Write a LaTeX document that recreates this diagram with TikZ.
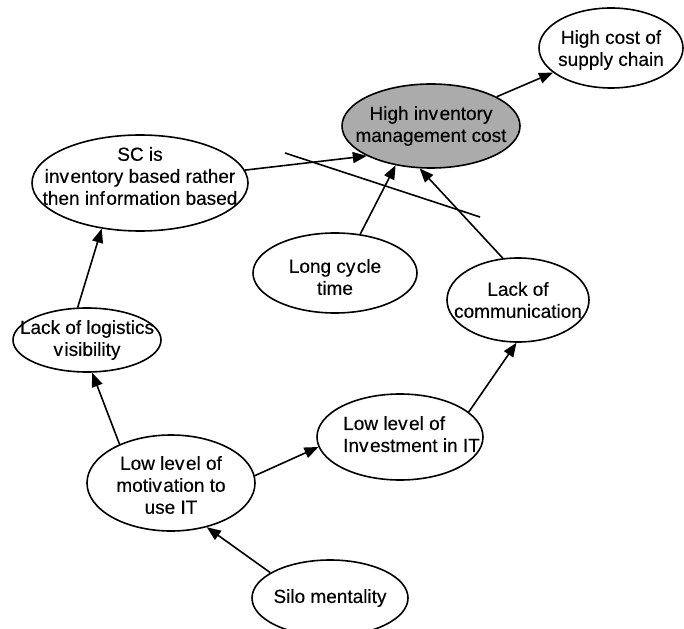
\documentclass[tikz,border=0pt]{standalone}
\usepackage{fontspec}
\setmainfont{Liberation Sans}
\newfontfamily\nodefont{Liberation Sans}[FakeBold=0.3]
\usetikzlibrary{shapes.geometric,arrows.meta}
% small gap the old typesetting leaves after some letters
\newcommand\vgap{\kern1.5pt}
\begin{document}
\begin{tikzpicture}[x=1pt,y=-1pt,
  txt/.style={align=center,inner sep=0pt,
    font=\nodefont\fontsize{19}{22}\selectfont},
  bubble/.style={ellipse,draw,line width=1.6pt,inner sep=0pt},
  shaded/.style={bubble,fill=black!33},
  link/.style={line width=1.6pt,-{Triangle[length=14pt,width=11pt]}},
  plain/.style={line width=1.6pt},
]
\useasboundingbox (0,0) rectangle (684,628);

% causes and effects
\node[bubble,minimum width=144pt,minimum height=80pt,
  label={[txt,yshift=-2pt]center:{High cost of\\supply chain}}] (cost) at (611,48) {};
\node[shaded,minimum width=178pt,minimum height=84pt,
  label={[txt]center:{High inv\vgap entory\\management cost}}] (inv) at (431,126) {};
\node[bubble,minimum width=216pt,minimum height=96pt,
  label={[txt,yshift=7pt]center:{SC is\\inv\vgap entory based rather\\then inf\vgap ormation based}}] (sc) at (140,183) {};
\node[bubble,minimum width=164pt,minimum height=80pt,
  label={[txt,yshift=-4pt]center:{Long cy\vgap cle\\time}}] (cycle) at (335,273) {};
\node[bubble,minimum width=142pt,minimum height=84pt,
  label={[txt]center:{Lack of\\communication}}] (comm) at (518,300) {};
\node[bubble,minimum width=148pt,minimum height=64pt,
  label={[txt]center:{Lack of logistics\\v\vgap isibility}}] (logi) at (87,340) {};
\node[bubble,minimum width=166pt,minimum height=86pt] (invest) at (400,437) {};
\node[txt,align=left,anchor=north west] (investtext) at (343,416) {Low lev\vgap el of\\Inv\vgap estment in IT};
\node[bubble,minimum width=168pt,minimum height=96pt,
  label={[txt,yshift=-2pt]center:{Low lev\vgap el of\\motiv\vgap ation to\\use IT}}] (motiv) at (171,483) {};
\node[bubble,minimum width=156pt,minimum height=76pt,
  label={[txt]center:{Silo mentality}}] (silo) at (330,598) {};

% cause-and-effect links
\draw[link] (inv.24) -- (cost.203);
\draw[link] (sc.7) -- (inv.205);
\draw[link] (cycle.57) -- (inv.228);
\draw[link] (comm.110) -- (inv.255);
\draw[link] (invest.20) -- (comm.268);
\draw[link] (motiv.5) -- (invest.187);
\draw[link] (motiv.143) -- (logi.279);
\draw[link] (logi.106) -- (sc.230);
\draw[link] (silo.157) -- (motiv.309);

% cut line across the inputs of the inventory cost
\coordinate (cutA) at (285,153);
\coordinate (cutB) at (480,217);
\draw[plain] (cutA) -- (cutB);
\end{tikzpicture}
\end{document}
